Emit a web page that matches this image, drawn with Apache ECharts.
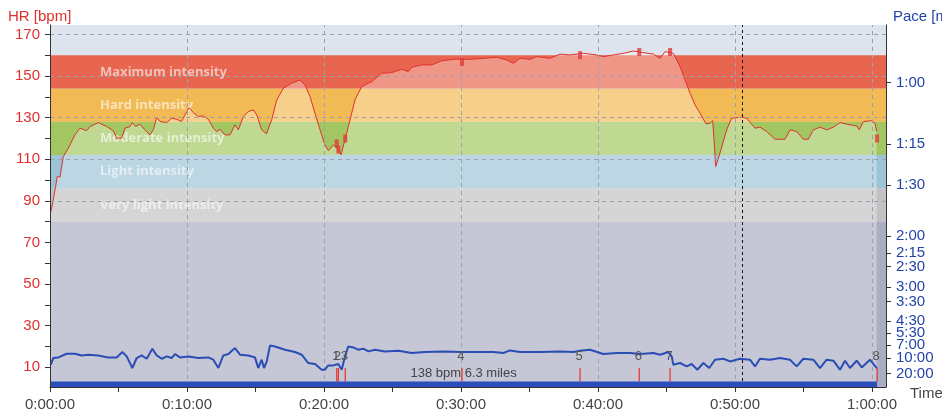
<!DOCTYPE html>
<html><head><meta charset="utf-8">
<script src="https://cdn.jsdelivr.net/npm/echarts@6/dist/echarts.min.js"></script>
<style>html,body{margin:0;padding:0;background:#fff}#c{width:942px;height:420px}</style>
</head><body><div id="c"></div>
<script>
// ---- data (time in minutes) ----
const hrTimes = [0.07,0.24,0.41,0.53,0.73,0.97,1.34,1.82,2.19,2.68,2.92,3.53,4.14,4.62,4.87,5.23,5.47,5.84,6.01,6.25,6.57,6.93,7.30,7.54,7.79,8.03,8.52,8.88,9.25,9.61,9.85,10.15,10.46,10.83,11.19,11.56,11.92,12.17,12.41,12.77,13.14,13.50,13.75,14.11,14.47,14.84,15.09,15.45,15.80,16.18,16.55,17.03,17.64,18.25,18.61,18.98,19.34,19.71,20.07,20.32,20.68,21.05,21.24,21.53,21.90,22.26,22.75,23.48,24.21,24.94,25.67,26.15,26.40,27.13,27.86,28.59,29.56,30.53,31.63,32.60,33.33,33.82,34.31,35.04,35.52,36.50,37.23,37.96,38.93,39.90,40.39,41.12,41.85,42.58,43.31,44.04,44.53,44.89,45.50,45.99,46.35,46.72,47.08,47.45,47.88,48.18,48.37,48.47,48.59,48.90,49.39,49.76,50.49,50.85,51.46,51.82,52.31,52.92,53.65,54.01,54.50,54.99,55.35,55.72,56.20,56.69,57.18,57.66,58.39,58.88,59.07,59.37,59.98,60.22,60.34];
const hrValues = [84.9,90.5,96.9,101.7,101.4,111.3,115.3,121.7,124.9,123.7,125.7,127.6,125.7,123.7,120.1,120.1,124.9,125.7,127.6,125.7,126.8,124.1,121.7,124.1,130.2,128.1,127.6,129.7,129.2,128.1,131.3,134.8,132.4,130.5,130.8,129.2,124.9,123.3,124.4,121.7,121.7,126.5,124.1,130.5,132.9,133.7,131.3,124.1,122.2,128.9,138.5,144.1,146.5,148.1,145.7,140.1,132.1,124.1,116.9,114.1,116.9,114.5,112.1,119.3,128.9,138.5,144.9,147.3,151.3,151.6,153.2,152.1,154.2,155.3,155.3,157.3,158.1,158.0,158.5,159.0,157.7,156.1,158.5,158.0,159.3,158.5,160.5,160.1,160.9,160.1,159.3,160.1,160.9,162.0,161.2,160.5,158.5,161.7,160.9,154.5,148.1,141.7,136.1,132.1,127.0,127.3,128.5,119.3,106.5,112.9,124.1,129.7,130.2,129.7,124.9,125.4,123.3,119.6,119.6,124.1,123.3,119.6,119.6,124.1,125.4,124.1,125.4,127.6,126.5,126.0,124.1,128.1,128.5,127.3,123.3];
const paceTimes = [0.05,0.24,0.61,1.22,1.82,2.31,2.79,3.52,4.25,4.87,5.28,5.60,6.01,6.33,6.69,7.06,7.47,7.79,8.16,8.52,8.88,9.12,9.49,10.10,10.83,11.56,11.92,12.29,12.65,13.02,13.50,13.87,14.47,14.96,15.20,15.45,15.62,15.82,16.06,16.42,17.15,17.88,18.37,18.85,19.34,19.83,20.07,20.31,20.68,21.04,21.29,21.53,21.77,22.14,22.50,22.87,23.24,23.72,24.45,25.43,26.40,27.37,28.83,29.93,31.39,32.36,33.09,33.58,34.31,35.77,37.23,38.20,38.69,39.42,40.39,41.37,42.34,43.07,44.04,44.53,45.13,45.38,45.50,45.99,46.47,46.84,47.25,47.69,48.12,48.54,49.15,49.64,50.36,51.09,51.46,51.82,52.55,53.28,54.01,54.50,54.99,55.72,56.20,56.69,57.18,57.66,58.03,58.39,58.88,59.25,59.85,60.34];
const paceValues = [12.61,9.89,9.70,8.69,8.69,9.13,8.94,9.13,9.70,9.70,8.29,9.40,14.60,9.89,9.13,10.12,7.61,9.13,10.12,9.40,9.89,8.76,9.70,9.40,9.89,9.70,10.46,14.60,9.13,8.76,7.48,8.94,9.13,9.70,14.60,10.46,14.60,11.11,7.03,7.20,7.80,8.29,8.94,11.79,12.26,15.89,15.89,12.99,12.99,12.26,15.89,9.40,7.20,7.37,7.80,7.61,8.15,7.80,8.15,8.01,8.52,8.29,8.15,8.29,8.29,8.29,8.52,7.94,8.29,8.29,8.15,8.29,8.01,7.80,8.76,8.52,8.52,8.76,8.52,8.94,8.29,9.40,12.61,11.79,13.57,12.26,15.89,11.79,14.60,10.46,10.12,11.11,10.12,10.46,13.57,10.12,10.46,9.89,10.46,13.57,10.12,10.46,14.60,10.46,10.83,15.89,10.83,14.60,10.83,14.19,10.46,14.60];
const lapNames = ['1','2','3','4','5','6','7','8'];
const lapTimes = [20.93,21.05,21.55,30.07,38.69,43.01,45.26,60.37];
const lapHR = [117.6,114.6,119.9,156.8,160.0,161.5,161.5,120.0];
const zoneNames = ['Very light intensity','Light intensity','Moderate intensity','Hard intensity','Maximum intensity'];
const zoneBounds = [80,96,112,128,144,160];
const hrTickValues = [10,20,30,40,50,60,70,80,90,100,110,120,130,140,150,160,170];
const hrLabelValues = [10,30,50,70,90,110,130,150,170];
const hrGridValues = [90,110,130,150,170];
const timeTickValues = [0,5,10,15,20,25,30,35,40,45,50,55,60];
const timeLabelValues = [0,10,20,30,40,50,60];
const paceTickMinutes = [1,1.25,1.5,2,2.25,2.5,3,3.5,4.5,5.5,7,10,20];
const sessionStart = 0;
const sessionEnd = 60.37;
const sessionLabel = '138 bpm 6.3 miles';
const cursorTime = 50.5;

// ---- styles ----
const zoneColors = ['#C2C2C4','#9DC3D7','#A2C762','#F2BA55','#E8654F'];
const bottomColor = '#ABAEC3';
const FONT = 'Liberation Sans';

const pad2 = n => (n < 10 ? '0' : '') + n;
const fmtTime = m => Math.floor(m / 60) + ':' + pad2(Math.round(m) % 60) + ':00';
const fmtPace = v => { const s = Math.round(60 / v); return Math.floor(s / 60) + ':' + pad2(s % 60); };

const chart = echarts.init(document.getElementById('c'), null, {renderer: 'canvas'});
const zoneAreas = zoneNames.map((n, i) => [
  {yAxis: zoneBounds[i], name: n, itemStyle: {color: zoneColors[i]}},
  {yAxis: zoneBounds[i + 1]}
]);
const gridLines = timeLabelValues.filter(v => v > 0).map(v => ({xAxis: v}))
  .concat(hrGridValues.map(v => ({yAxis: v})));

chart.setOption({
  animation: false,
  title: [
    {text: 'HR [bpm]', left: 3, top: 4, textStyle: {fontFamily: FONT, fontSize: 15, fontWeight: 'normal', color: '#E0302C'}},
    {text: 'Pace [min/mi]', left: 888, top: 4, textStyle: {fontFamily: FONT, fontSize: 15, fontWeight: 'normal', color: '#2244AA'}},
    {text: 'Time', left: 905, top: 381, textStyle: {fontFamily: FONT, fontSize: 15, fontWeight: 'normal', color: '#444'}}
  ],
  grid: {left: 50, right: 56, top: 25, bottom: 33, show: true, backgroundColor: '#DEE4EE', borderWidth: 0},
  xAxis: {
    type: 'value', min: 0, max: 61.02, z: 10,
    axisLine: {show: true, lineStyle: {color: '#333', width: 1}},
    axisTick: {show: true, length: 5, customValues: timeTickValues, lineStyle: {color: '#333'}},
    axisLabel: {customValues: timeLabelValues, formatter: fmtTime, margin: 10, fontFamily: FONT, fontSize: 15, color: '#444'},
    splitLine: {show: false}
  },
  yAxis: [
    {
      type: 'value', min: 0.5, max: 174.5, position: 'left', z: 10,
      axisLine: {show: true, lineStyle: {color: '#333', width: 1}},
      axisTick: {show: true, length: 5, customValues: hrTickValues, lineStyle: {color: '#333'}},
      axisLabel: {customValues: hrLabelValues, margin: 10, fontFamily: FONT, fontSize: 15, color: '#E0302C'},
      splitLine: {show: false}
    },
    {
      type: 'value', min: 0.0065, max: 1.1882, position: 'right', z: 10,
      axisLine: {show: true, lineStyle: {color: '#333', width: 1}},
      axisTick: {show: true, length: 5, customValues: paceTickMinutes.map(p => 1 / p), lineStyle: {color: '#333'}},
      axisLabel: {customValues: paceTickMinutes.map(p => 1 / p), formatter: fmtPace, margin: 10, fontFamily: FONT, fontSize: 15, color: '#2244AA'},
      splitLine: {show: false}
    }
  ],
  series: [
    {
      name: 'zones', type: 'line', data: [], z: 1, silent: true,
      markArea: {
        silent: true,
        label: {show: true, position: 'insideLeft', distance: 50, color: 'rgba(255,255,255,0.6)', fontWeight: 'bold', fontSize: 13, fontFamily: 'Open Sans'},
        data: zoneAreas
      }
    },
    {
      name: 'grid', type: 'line', data: [], z: 2, silent: true,
      markLine: {silent: true, symbol: ['none', 'none'], label: {show: false},
        lineStyle: {color: '#9AA0B2', type: [4, 4], width: 1}, data: gridLines}
    },
    {
      name: 'base', type: 'line', data: [], z: 3, silent: true,
      markArea: {silent: true, itemStyle: {color: bottomColor}, data: [[{yAxis: 0.5}, {yAxis: zoneBounds[0]}]]}
    },
    {
      name: 'HR', type: 'line', z: 4, showSymbol: false, symbol: 'none',
      data: hrTimes.map((t, i) => [t, hrValues[i]]),
      lineStyle: {color: '#E0302C', width: 1},
      areaStyle: {color: 'rgba(255,255,255,0.45)', origin: 'start'}
    },
    {
      name: 'cursor', type: 'line', data: [], z: 5, silent: true,
      markLine: {silent: true, symbol: ['none', 'none'], label: {show: false},
        lineStyle: {color: '#111', type: [3, 3], width: 1}, data: [{xAxis: cursorTime}]}
    },
    {
      name: 'Pace', type: 'line', yAxisIndex: 1, z: 6, showSymbol: false, symbol: 'none',
      data: paceTimes.map((t, i) => [t, 1 / paceValues[i]]),
      lineStyle: {color: '#2A4DB5', width: 2}
    },
    {
      name: 'session', type: 'custom', z: 7, silent: true,
      data: [[sessionStart, sessionEnd]],
      encode: {x: [0, 1]},
      renderItem: (params, api) => {
        const a = api.coord([api.value(0), 0.5]);
        const b = api.coord([api.value(1), 0.5]);
        const y0 = params.coordSys.y + params.coordSys.height;
        return {type: 'group', children: [
          {type: 'rect', shape: {x: a[0], y: y0 - 5.6, width: b[0] - a[0], height: 5.6}, style: {fill: '#2A4EBA'}},
          {type: 'text', style: {text: sessionLabel, x: (a[0] + b[0]) / 2, y: y0 - 14, align: 'center', verticalAlign: 'middle', fill: '#444', font: '13px "Liberation Sans"'}}
        ]};
      }
    },
    {
      name: 'laps', type: 'custom', z: 8, silent: true,
      data: lapTimes.map((t, i) => [t, i]),
      encode: {x: 0},
      renderItem: (params, api) => {
        const p = api.coord([api.value(0), 0.5]);
        const y0 = params.coordSys.y + params.coordSys.height;
        return {type: 'group', children: [
          {type: 'rect', shape: {x: p[0] - 0.6, y: y0 - 19, width: 1.2, height: 13.4}, style: {fill: '#E8302A'}},
          {type: 'text', style: {text: lapNames[api.value(1)], x: p[0] - 1, y: y0 - 30.6, align: 'center', verticalAlign: 'middle', fill: '#555', font: '13px "Liberation Sans"'}}
        ]};
      }
    },
    {
      name: 'lapHR', type: 'scatter', z: 9, silent: true,
      symbol: 'rect', symbolSize: [4, 8],
      data: lapTimes.map((t, i) => [t, lapHR[i]]),
      itemStyle: {color: '#E23A3A'}
    }
  ]
});
</script>
</body></html>
